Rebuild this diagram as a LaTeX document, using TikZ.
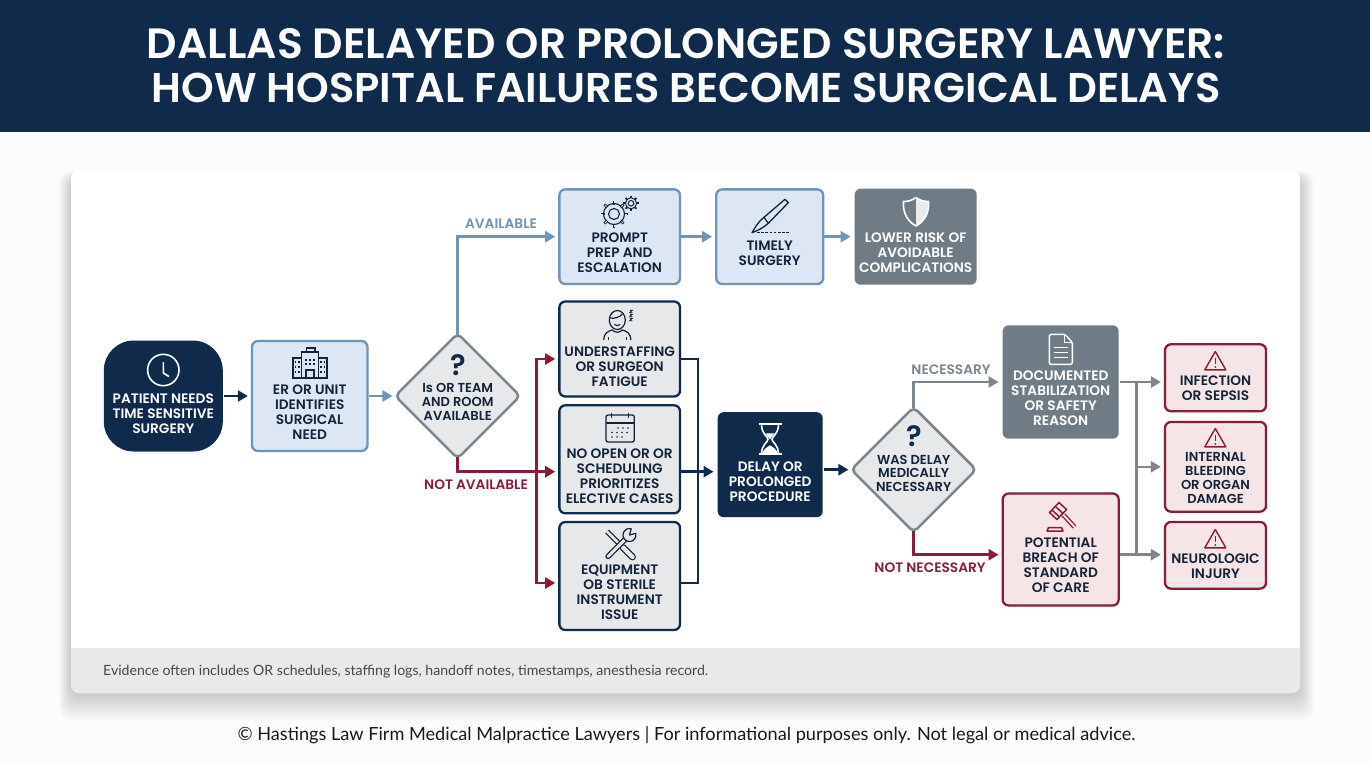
\documentclass[tikz,border=0pt]{standalone}
\usepackage{fontspec}
\setmainfont{Poppins}[BoldFont={Poppins SemiBold}]
\newfontfamily\notefont{Lato}
\usetikzlibrary{arrows.meta,shapes.geometric}
\definecolor{navy}{HTML}{0F2A4B}
\definecolor{steel}{HTML}{6F93B9}
\definecolor{paleblue}{HTML}{DCE7F3}
\definecolor{slate}{HTML}{6F7C85}
\definecolor{ash}{HTML}{7C868C}
\definecolor{palegray}{HTML}{E6E8E9}
\definecolor{wine}{HTML}{8A1D35}
\definecolor{palered}{HTML}{F6E5E7}
\definecolor{bandgray}{HTML}{E8EAEA}
\definecolor{inktext}{HTML}{12233A}
\tikzset{
  box/.style={rectangle,rounded corners=6pt,line width=2.3pt,inner sep=0pt},
  bluebox/.style={box,draw=steel,fill=paleblue},
  graybox/.style={box,draw=navy,fill=palegray},
  redbox/.style={box,draw=wine,fill=palered},
  slatebox/.style={box,fill=slate},
  navybox/.style={box,fill=navy},
  decision/.style={diamond,aspect=1,minimum width=126pt,minimum height=126pt,inner sep=0pt,rounded corners=5pt,line width=2.5pt,draw=ash,fill=palegray},
  boxtext/.style={align=center,font=\fontsize{13.7}{15}\selectfont\bfseries,text=inktext,inner sep=0pt},
  whitetext/.style={boxtext,text=white},
  smalltext/.style={align=center,font=\fontsize{13}{13.8}\selectfont\bfseries,text=inktext,inner sep=0pt},
  flowlabel/.style={font=\fontsize{13.7}{15}\selectfont\bfseries,inner sep=0pt},
  flowarrow/.style={line width=2.5pt,-{Triangle[length=10pt,width=11pt]}},
  flowline/.style={line width=2.5pt}
}
\tikzset{
  clockicon/.pic={
    \draw[white,line width=1.6pt] (0,0) circle (15.7pt);
    \draw[white,line width=1.6pt] (0,-8) -- (0,3) -- (5.7,6.5);
  },
  hospitalicon/.pic={
    \draw[inktext,line width=1.2pt] (-8.5,15) rectangle (8.5,-11);
    \draw[inktext,line width=1.2pt] (-3.5,-11) -- (-3.5,-15) -- (5,-15) -- (5,-11);
    \draw[inktext,line width=1.2pt] (-17,15) rectangle (-8.5,-5);
    \draw[inktext,line width=1.2pt] (8.5,15) rectangle (17,-5);
    \draw[inktext,line width=1.4pt] (-18,15.5) -- (18,15.5);
    \draw[inktext,line width=1.2pt] (-4,15) rectangle (4,7);
    \foreach \u in {-14.5,-11,11,14.5} \foreach \v in {-1,4,9}
      \fill[inktext] (\u-0.8,\v-0.8) rectangle (\u+0.8,\v+0.8);
    \foreach \u in {-4,0,4} \foreach \v in {-3,1}
      \fill[inktext] (\u-0.8,\v-0.8) rectangle (\u+0.8,\v+0.8);
  },
  gearicon/.pic={
    \draw[inktext,line width=1.1pt] (0,0) circle (5.5pt);
    \draw[inktext,line width=1.1pt] (0,0) circle (10.5pt);
    \foreach \a in {0,45,...,315}
      \draw[inktext,line width=2.6pt] (\a:9.5pt) -- (\a:13.5pt);
    \foreach \a in {0,45,...,315}
      \draw[paleblue,line width=1pt] (\a:10.6pt) -- (\a:12.6pt);
  },
  smallgearicon/.pic={
    \draw[inktext,line width=1pt] (0,0) circle (2.8pt);
    \draw[inktext,line width=1pt] (0,0) circle (5.6pt);
    \foreach \a in {0,45,...,315}
      \draw[inktext,line width=1.8pt] (\a:5pt) -- (\a:7.6pt);
  },
  scalpelicon/.pic={
    \draw[inktext,line width=1.3pt,line join=round] (15,-16.7) -- (18.3,-13.3) -- (-1.7,7.3)
      .. controls (-7,12) and (-13,15) .. (-18,16.7)
      .. controls (-15,12) and (-13,7) .. (-6,1.3) -- cycle;
    \draw[inktext,line width=1.2pt] (-6,1.3) -- (-1.7,7.3);
    \draw[inktext,line width=1.2pt,dash pattern=on 2.6pt off 1.6pt] (-13,16.4) -- (19,16.4);
  },
  shieldicon/.pic={
    \fill[white!85!slate] (0,-14) .. controls (4,-11) and (8,-10) .. (12.5,-10)
      .. controls (13.5,2) and (8,10) .. (0,14.5) -- cycle;
    \draw[white,line width=1.6pt,line join=round] (0,-14) .. controls (4,-11) and (8,-10) .. (12.5,-10)
      .. controls (13.5,2) and (8,10) .. (0,14.5)
      .. controls (-8,10) and (-13.5,2) .. (-12.5,-10)
      .. controls (-8,-10) and (-4,-11) .. (0,-14) -- cycle;
  },
  personicon/.pic={
    \draw[inktext,line width=1.2pt] (0,0) ellipse (8pt and 9.5pt);
    \draw[inktext,line width=1.2pt] (-7.6,-2) .. controls (-3,-1) and (3,-3) .. (5,-6);
    \draw[inktext,line width=1.1pt] (-3,4.5) .. controls (-1,6) and (1,6) .. (3,4.5);
    \draw[inktext,line width=1.2pt] (-13.5,20) .. controls (-13.5,13) and (-9,11) .. (-5,10)
      .. controls (-2,13) and (2,13) .. (5,10) .. controls (9,11) and (13.5,13) .. (13.5,20);
    \draw[inktext,line width=.9pt] (-9,20) -- (-9,17) (9,20) -- (9,17);
    \foreach \v in {-8.5,-4.5,-0.5}
      \draw[inktext,line width=.9pt] (12.5,\v-1.2) -- (15,\v-1.2) -- (12.5,\v+1.2) -- (15,\v+1.2);
  },
  calendaricon/.pic={
    \draw[inktext,line width=1.3pt,rounded corners=2pt] (-14,-13) rectangle (14.3,14);
    \draw[inktext,line width=1.3pt] (-14,-5) -- (14.3,-5);
    \draw[inktext,line width=1.3pt] (-8.4,-15.5) -- (-8.4,-10.5) (8.4,-15.5) -- (8.4,-10.5);
    \foreach \u in {-2,3,8} \fill[inktext] (\u,0) circle (.85pt);
    \foreach \u in {-8,-3,2,7} \fill[inktext] (\u,4.5) circle (.85pt);
    \foreach \u in {-8,-3,2} \fill[inktext] (\u,9) circle (.85pt);
  },
  hourglassicon/.pic={
    \draw[white,line width=1.8pt] (-11.5,-15) -- (11.5,-15) (-11.5,15) -- (11.5,15);
    \draw[white,line width=1.6pt] (-8.5,-15) .. controls (-8.5,-5) and (-2,-3) .. (-2,0)
      .. controls (-2,3) and (-8.5,5) .. (-8.5,15);
    \draw[white,line width=1.6pt] (8.5,-15) .. controls (8.5,-5) and (2,-3) .. (2,0)
      .. controls (2,3) and (8.5,5) .. (8.5,15);
    \fill[white] (-8,15) .. controls (-7,10) and (-3,8) .. (0,6) .. controls (3,8) and (7,10) .. (8,15) -- cycle;
    \fill[white] (-4.5,-6) -- (4.5,-6) -- (0,0) -- cycle;
  },
  toolsicon/.pic={
    \draw[inktext,line width=1.2pt,double=palegray,double distance=2.6pt] (-13,-13) -- (3,3);
    \draw[inktext,line width=1.2pt,double=palegray,double distance=4.4pt,line cap=round] (3,3) -- (12.5,12.5);
    \draw[inktext,line width=1.2pt,double=palegray,double distance=3pt,line cap=round] (-12,12) -- (6,-6);
    \filldraw[inktext,fill=palegray,line width=1.2pt,line join=round] (9.5,-9.5) ++(75:6.5pt) arc[start angle=75,end angle=375,radius=6.5pt] -- (9.5,-9.5) -- cycle;
  },
  docicon/.pic={
    \draw[white,line width=1.5pt,rounded corners=1.5pt,line join=round] (4,-15) -- (-11.5,-15) -- (-11.5,15) -- (11.5,15) -- (11.5,-7) -- cycle;
    \draw[white,line width=1.3pt,line join=round] (4,-15) -- (4,-7) -- (11.5,-7);
    \foreach \v in {-2,3,8} \draw[white,line width=1.4pt] (-7,\v) -- (7,\v);
  },
  gavelicon/.pic={
    \draw[wine,line width=1.5pt,line join=round] (-11,-3.5) -- (-1.5,-13.5) -- (6,-6.5) -- (-3.5,3.5) -- cycle;
    \draw[wine,line width=1.5pt] (-8,-5.5) -- (-1,1) (-4.5,-9) -- (2.5,-2.5);
    \draw[wine,line width=1.3pt,double=palered,double distance=2pt] (3,-1) -- (14,11);
    \draw[wine,line width=1.5pt,line join=round] (-13.5,15) -- (-12,11.5) -- (1,11.5) -- (2.5,15) -- cycle;
  },
  warnicon/.pic={
    \draw[wine,line width=1.4pt,line join=round] (0,-9.5) -- (10.5,8.8) -- (-10.5,8.8) -- cycle;
    \draw[wine,line width=1.5pt] (0,-3.5) -- (0,3);
    \fill[wine] (0,6) circle (1pt);
  }
}
\begin{document}
\begin{tikzpicture}[x=1pt,y=-1pt]
  \useasboundingbox (0,0) rectangle (1370,765);
  \fill[white!99!black] (0,0) rectangle (1370,765);
  \fill[navy] (0,0) rectangle (1370,132);
  \node[align=center,text=white,inner sep=0pt,font=\fontsize{42.4}{44}\selectfont\bfseries] (title) at (686,66) {DALLAS DELAYED OR PROLONGED SURGERY LAWYER:\\{\fontsize{41.6}{44}\selectfont HOW HOSPITAL FAILURES BECOME SURGICAL DELAYS}};

  \foreach \s in {1,...,24}
    \fill[black,opacity=.008,rounded corners=12pt] (71-\s*.5,178-\s*.3) rectangle (1300+\s*.6,695+\s*1.1);
  \fill[white,rounded corners=8pt] (71,170) rectangle (1300,693);
  \fill[bandgray] (71,648) -- (1300,648) {[rounded corners=8pt] -- (1300,693) -- (71,693)} -- cycle;
  \node[anchor=west,inner sep=0pt,text=black!72,font=\notefont\fontsize{14.1}{17}\selectfont] (evidence) at (103,672) {Evidence often includes OR schedules, staffing logs, handoff notes, timestamps, anesthesia record.};
  \node[inner sep=0pt,text=black!90,font=\notefont\fontsize{18.15}{21}\selectfont] (credit) at (686.5,735) {© Hastings Law Firm Medical Malpractice Lawyers | For informational purposes only. Not legal or medical advice.};

  \node[navybox,rounded corners=30pt,minimum width=119pt,minimum height=111pt] (A) at (163.3,396) {};
  \begin{scope}[every node/.style={bluebox}]
    \node[minimum width=115.5pt,minimum height=110pt] (B) at (309.7,396) {};
    \node[minimum width=120.7pt,minimum height=94.7pt] (D) at (619.7,236.7) {};
    \node[minimum width=107pt,minimum height=94.7pt] (E) at (769.7,236.7) {};
  \end{scope}
  \node[slatebox,minimum width=122pt,minimum height=96pt] (F) at (915.7,236.7) {};
  \begin{scope}[every node/.style={graybox,minimum width=120.7pt}]
    \node[minimum height=95pt] (G) at (619.7,349) {};
    \node[minimum height=108pt] (H) at (619.7,459.3) {};
    \node[minimum height=108pt] (I) at (619.7,576) {};
  \end{scope}
  \node[navybox,minimum width=105pt,minimum height=105pt] (J) at (770.2,464.7) {};
  \node[decision] (C) at (457.7,396) {};
  \node[decision] (K) at (913.7,469.7) {};
  \node[slatebox,minimum width=116pt,minimum height=113.4pt] (L) at (1060.7,382) {};
  \node[redbox,minimum width=116pt,minimum height=112pt] (M) at (1060.7,549.5) {};
  \begin{scope}[every node/.style={redbox,minimum width=101pt}]
    \node[minimum height=67pt] (N) at (1215.5,377.8) {};
    \node[minimum height=89.7pt] (O) at (1215.5,466.8) {};
    \node[minimum height=66.7pt] (P) at (1215.5,555.3) {};
  \end{scope}

  \begin{scope}[every edge/.style={draw=navy,flowarrow,shorten >=3pt}]
    \path (A.east) edge (B.west);
    \path ([yshift=-12.4pt]H.east) edge ([yshift=-7pt]J.west);
    \path ([yshift=-5pt]J.east) edge[shorten >=1pt] (K.west);
  \end{scope}
  \begin{scope}[every edge/.style={draw=steel,flowarrow,shorten >=3pt}]
    \path (B.east) edge[shorten >=1pt] (C.west);
    \path (D.east) edge (E.west);
    \path (E.east) edge (F.west);
  \end{scope}
  \draw[steel,flowarrow,shorten >=3pt,shorten <=-3pt] (C.north) |- (D.west);
  \draw[wine,flowarrow,shorten >=3pt,shorten <=-3pt] (C.south) |- ([yshift=-12.4pt]H.west);
  \coordinate (redbus) at (536.7,471.7);
  \draw[wine,flowarrow,shorten >=3pt] (redbus) |- ([yshift=-10pt]G.west);
  \draw[wine,flowarrow,shorten >=3pt] (redbus) |- ([yshift=-7pt]I.west);
  \coordinate (navybus) at (698,471.7);
  \draw[navy,flowline] (navybus) |- ([yshift=-10pt]G.east);
  \draw[navy,flowline] (navybus) |- ([yshift=-7pt]I.east);
  \draw[ash,flowarrow,shorten >=3pt,shorten <=-3pt] (K.north) |- (L.west);
  \draw[wine,flowarrow,shorten >=3pt,shorten <=-3pt] (K.south) |- ([yshift=-5.2pt]M.west);
  \draw[ash,flowarrow,shorten >=3pt] (L.east) -- ([yshift=-4.2pt]N.west);
  \draw[ash,flowarrow,shorten >=3pt] ([yshift=-5.2pt]M.east) -- ([yshift=.6pt]P.west);
  \coordinate (graybus) at (1136.7,466.8);
  \draw[ash,flowarrow,shorten >=3pt] (graybus) -- (O.west);
  \draw[ash,flowline] (1136.7,382) coordinate (graytop) -- (1136.7,554.7) coordinate (graybot);

  \pic at (163.3,370) {clockicon};
  \pic at (310,363) {hospitalicon};
  \pic at (614,214) {gearicon};
  \pic at (631,203.3) {smallgearicon};
  \pic at (770,216) {scalpelicon};
  \pic at (916,211.5) {shieldicon};
  \pic at (617.3,320) {personicon};
  \pic at (620,428) {calendaricon};
  \pic at (770,439.3) {hourglassicon};
  \pic at (620,544.5) {toolsicon};
  \pic at (1060.8,349.3) {docicon};
  \pic at (1060.5,516) {gavelicon};
  \pic at (1215.3,361) {warnicon};
  \pic at (1215.3,438) {warnicon};
  \pic at (1215.3,539) {warnicon};

  \node[whitetext] (At) at (163.3,414) {PATIENT NEEDS\\TIME SENSITIVE\\SURGERY};
  \node[boxtext] (Bt) at (309.7,411.8) {ER OR UNIT\\IDENTIFIES\\SURGICAL\\NEED};
  \node[smalltext] (Ct) at (457.7,401.7) {Is OR TEAM\\AND ROOM\\AVAILABLE};
  \node[boxtext] (Dt) at (619.7,252.3) {PROMPT\\PREP AND\\ESCALATION};
  \node[boxtext] (Et) at (769.7,253.5) {TIMELY\\SURGERY};
  \node[whitetext] (Ft) at (915.7,253) {LOWER RISK OF\\AVOIDABLE\\COMPLICATIONS};
  \node[boxtext] (Gt) at (619.7,366.3) {UNDERSTAFFING\\OR SURGEON\\FATIGUE};
  \node[boxtext] (Ht) at (619.7,475.7) {NO OPEN OR OR\\SCHEDULING\\PRIORITIZES\\ELECTIVE CASES};
  \node[boxtext] (It) at (619.7,592.3) {EQUIPMENT\\OB STERILE\\INSTRUMENT\\ISSUE};
  \node[whitetext] (Jt) at (770.2,481.7) {DELAY OR\\PROLONGED\\PROCEDURE};
  \node[smalltext] (Kt) at (913.7,473.3) {WAS DELAY\\MEDICALLY\\NECESSARY};
  \node[whitetext] (Lt) at (1060.7,398.5) {DOCUMENTED\\STABILIZATION\\OR SAFETY\\REASON};
  \node[boxtext] (Mt) at (1060.7,565) {POTENTIAL\\BREACH OF\\STANDARD\\OF CARE};
  \node[boxtext] (Nt) at (1215.5,388) {INFECTION\\OR SEPSIS};
  \node[smalltext] (Ot) at (1215.5,477.8) {INTERNAL\\BLEEDING\\OR ORGAN\\DAMAGE};
  \node[boxtext] (Pt) at (1215.5,566) {NEUROLOGIC\\INJURY};

  \begin{scope}[every node/.style={text=navy,inner sep=0pt,font=\fontsize{29}{29}\selectfont\bfseries}]
    \node (Cq) at (458,365) {?};
    \node (Kq) at (914,436) {?};
  \end{scope}
  \begin{scope}[every node/.style={flowlabel}]
    \node[text=steel] (avail) at (501,224) {AVAILABLE};
    \node[text=wine] (notavail) at (476,485) {NOT AVAILABLE};
    \node[text=ash] (nec) at (951,370) {NECESSARY};
    \node[text=wine] (notnec) at (930,567.5) {NOT NECESSARY};
  \end{scope}
\end{tikzpicture}
\end{document}
